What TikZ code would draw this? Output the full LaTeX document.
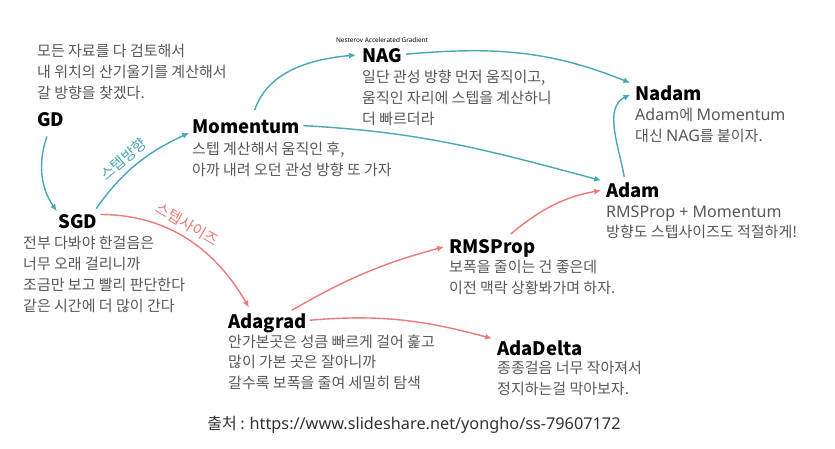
\documentclass[tikz,border=0pt]{standalone}
\usepackage{fontspec}
\usepackage{tikz}
\usetikzlibrary{positioning, arrows.meta}
\usepackage{xcolor}
\newfontfamily\kr{Noto Sans CJK KR}
\newfontfamily\latfont[Scale=1.07]{Noto Sans}
\definecolor{stepteal}{RGB}{72,168,184}
\definecolor{stepred}{RGB}{238,122,120}
\definecolor{desctext}{RGB}{88,88,88}

\begin{document}
\begin{tikzpicture}[x=1pt,y=-1pt,
        algo/.style={inner sep=0pt,anchor=base west,text height=15pt,text depth=0pt,
                     font=\kr\bfseries\fontsize{18.5}{22}\selectfont},
        desc/.style={inner sep=0pt,align=left,text=desctext,
                     font=\kr\fontsize{15}{20.8}\selectfont},
        tarrow/.style={-{Latex[length=7pt,width=6pt]},line width=1.4pt,draw=stepteal},
        rarrow/.style={-{Latex[length=7pt,width=6pt]},line width=1.4pt,draw=stepred},
        steplabel/.style={font=\kr\fontsize{15}{17}\selectfont,inner sep=1pt}]
    \useasboundingbox[fill=white] (0,0) rectangle (835,448);
    % algorithm names
    \node[algo] (gd) at (37,126) {GD};
    \node[algo] (sgd) at (58,228) {SGD};
    \node[algo] (mom) at (192,133) {Momentum};
    \node[algo] (nag) at (362,62) {NAG};
    \node[algo] (nadam) at (635,100) {Nadam};
    \node[algo] (adam) at (606,197) {Adam};
    \node[algo] (rms) at (449,253) {RMSProp};
    \node[algo] (adagrad) at (228,328) {Adagrad};
    \node[algo] (adadelta) at (497,355) {AdaDelta};
    \node[font=\latfont\fontsize{6}{7}\selectfont,inner sep=0pt,above=4pt of nag]
        (nagfull) {Nesterov Accelerated Gradient};
    % descriptions
    \node[desc,above=11pt of gd.north west,anchor=south west] (gdtxt)
        {모든 자료를 다 검토해서\\내 위치의 산기울기를 계산해서\\갈 방향을 찾겠다.};
    \node[desc,below=8pt of sgd.south west,anchor=north west,xshift=-35pt] (sgdtxt)
        {전부 다봐야 한걸음은\\너무 오래 걸리니까\\조금만 보고 빨리 판단한다\\같은 시간에 더 많이 간다};
    \node[desc,below=9pt of mom.south west,anchor=north west] (momtxt)
        {스텝 계산해서 움직인 후,\\아까 내려 오던 관성 방향 또 가자};
    \node[desc,below=8pt of nag.south west,anchor=north west] (nagtxt)
        {일단 관성 방향 먼저 움직이고,\\움직인 자리에 스텝을 계산하니\\더 빠르더라};
    \node[desc,below=8pt of nadam.south west,anchor=north west] (nadamtxt)
        {{\latfont Adam}에 {\latfont Momentum}\\대신 {\latfont NAG}를 붙이자.};
    \node[desc,below=8pt of adam.south west,anchor=north west] (adamtxt)
        {{\latfont RMSProp + Momentum}\\방향도 스텝사이즈도 적절하게!};
    \node[desc,below=7pt of rms.south west,anchor=north west] (rmstxt)
        {보폭을 줄이는 건 좋은데\\이전 맥락 상황봐가며 하자.};
    \node[desc,below=6pt of adagrad.south west,anchor=north west] (adagradtxt)
        {안가본곳은 성큼 빠르게 걸어 훑고\\많이 가본 곳은 잘아니까\\갈수록 보폭을 줄여 세밀히 탐색};
    \node[desc,below=6pt of adadelta.south west,anchor=north west] (adadeltatxt)
        {종종걸음 너무 작아져서\\정지하는걸 막아보자.};
    % source
    \node[inner sep=0pt,text=black!80,font=\kr\fontsize{16}{18}\selectfont] (src) at (414,425)
        {출처 : {\latfont\fontsize{15.2}{18}\selectfont https://www.slideshare.net/yongho/ss-79607172}};
    % direction branch
    \draw[tarrow,shorten <=11pt,shorten >=2pt] (gd.south) to[out=250,in=125] (sgd.north west);
    \draw[tarrow,shorten <=5pt,shorten >=3pt] ([xshift=-4pt]sgd.north east) to[out=55,in=205]
        node[steplabel,pos=0.45,above=4pt,sloped,text=stepteal] {스텝방향} ([yshift=-6pt]mom.west);
    \draw[tarrow,shorten <=8pt,shorten >=6pt] ([xshift=6pt]mom.north) to[out=72,in=185] (nag.west);
    \draw[tarrow,shorten <=3pt,shorten >=5pt] (mom.east) to[out=-3,in=165] (adam.north west);
    \draw[tarrow,shorten <=4pt,shorten >=5pt] (nag.east) to[out=5,in=158] (nadam.north west);
    \draw[tarrow,shorten <=5pt,shorten >=5pt] ([xshift=-8pt]adam.north) to[out=100,in=205] (nadam.west);
    % step size branch
    \draw[rarrow,shorten <=3pt,shorten >=6pt] ([yshift=6pt]sgd.east) to[out=0,in=120]
        node[steplabel,pos=0.45,above=5pt,sloped,text=stepred] {스텝사이즈} ([xshift=24pt]adagrad.north west);
    \draw[rarrow,shorten <=5pt,shorten >=5pt] ([xshift=20pt]adagrad.north) to[out=30,in=195] (rms.west);
    \draw[rarrow,shorten <=6pt,shorten >=5pt] ([xshift=14pt]rms.north) to[out=40,in=190] (adam.west);
    \draw[rarrow,shorten <=3pt,shorten >=5pt] (adagrad.east) to[out=5,in=165] (adadelta.north west);
\end{tikzpicture}
\end{document}
